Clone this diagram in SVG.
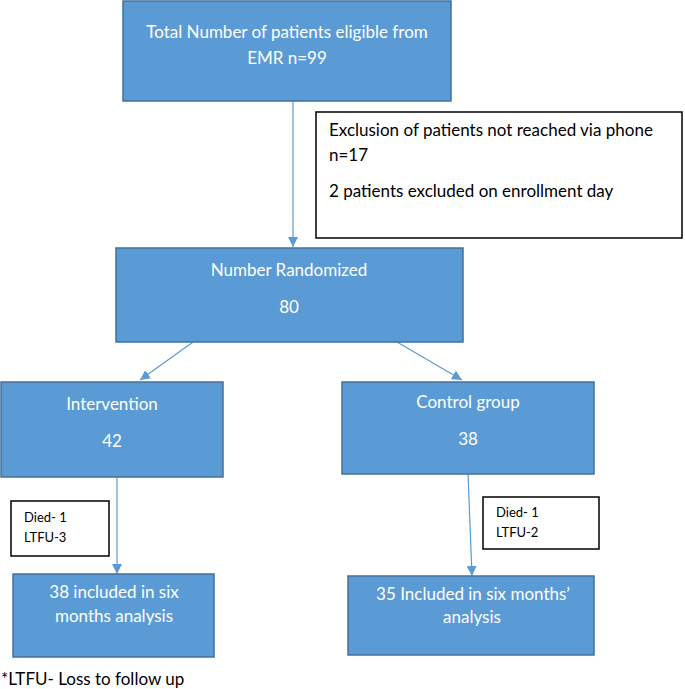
<svg xmlns="http://www.w3.org/2000/svg" width="685" height="689" viewBox="0 0 685 689">
<style>
.b{fill:#5B9BD5;stroke:#41719C;stroke-width:1.5}
.w{fill:#ffffff;stroke:#000000;stroke-width:1.5}
.t{font-family:Lato,"Liberation Sans",sans-serif;font-size:17px;fill:#ffffff;text-anchor:middle}
.k{font-family:Lato,"Liberation Sans",sans-serif;font-size:17px;fill:#000000}
.s{font-family:Lato,"Liberation Sans",sans-serif;font-size:13px;fill:#000000}
.c{stroke:#5B9BD5;stroke-width:1.2;fill:none}
</style>
<defs>
<marker id="ah" viewBox="0 0 10 10" refX="10" refY="5" markerWidth="10" markerHeight="10" markerUnits="userSpaceOnUse" orient="auto">
<path d="M0,0 L10,5 L0,10 z" fill="#5B9BD5"/>
</marker>
</defs>
<g id="connectors">
<line class="c" x1="293" y1="101" x2="293" y2="247" marker-end="url(#ah)"/>
<line class="c" x1="193" y1="342" x2="140" y2="380" marker-end="url(#ah)"/>
<line class="c" x1="397" y1="342" x2="462" y2="380" marker-end="url(#ah)"/>
<line class="c" x1="117" y1="477" x2="117" y2="574" marker-end="url(#ah)"/>
<line class="c" x1="468" y1="474" x2="472" y2="576" marker-end="url(#ah)"/>
</g>
<g id="eligible">
<rect class="b" x="123" y="1" width="328" height="100"/>
<text class="t" x="287" y="38">Total Number of patients eligible from</text>
<text class="t" x="287" y="64">EMR n=99</text>
</g>
<g id="exclusion">
<rect class="w" x="316" y="112" width="366" height="126"/>
<text class="k" x="329" y="136">Exclusion of patients not reached via phone</text>
<text class="k" x="329" y="161">n=17</text>
<text class="k" x="329" y="197">2 patients excluded on enrollment day</text>
</g>
<g id="randomized">
<rect class="b" x="116" y="248" width="347" height="94"/>
<text class="t" x="289" y="276">Number Randomized</text>
<text class="t" x="289" y="313">80</text>
</g>
<g id="intervention">
<rect class="b" x="1" y="382" width="222" height="95"/>
<text class="t" x="112" y="410">Intervention</text>
<text class="t" x="112" y="447">42</text>
</g>
<g id="control">
<rect class="b" x="342" y="382" width="252" height="92"/>
<text class="t" x="468" y="408">Control group</text>
<text class="t" x="468" y="445">38</text>
</g>
<g id="lossLeft">
<rect class="w" x="11" y="501" width="98" height="55"/>
<text class="s" x="24" y="522">Died- 1</text>
<text class="s" x="24" y="542">LTFU-3</text>
</g>
<g id="lossRight">
<rect class="w" x="483" y="497" width="116" height="52"/>
<text class="s" x="496" y="517">Died- 1</text>
<text class="s" x="496" y="537">LTFU-2</text>
</g>
<g id="resultLeft">
<rect class="b" x="13" y="574" width="201" height="83"/>
<text class="t" x="114" y="598">38 included in six</text>
<text class="t" x="114" y="622">months analysis</text>
</g>
<g id="resultRight">
<rect class="b" x="348" y="576" width="246" height="79"/>
<text class="t" x="473" y="600">35 Included in six months’</text>
<text class="t" x="472" y="623">analysis</text>
</g>
<g id="footnote">
<text class="k" x="1" y="685">*LTFU- Loss to follow up</text>
</g>
</svg>
